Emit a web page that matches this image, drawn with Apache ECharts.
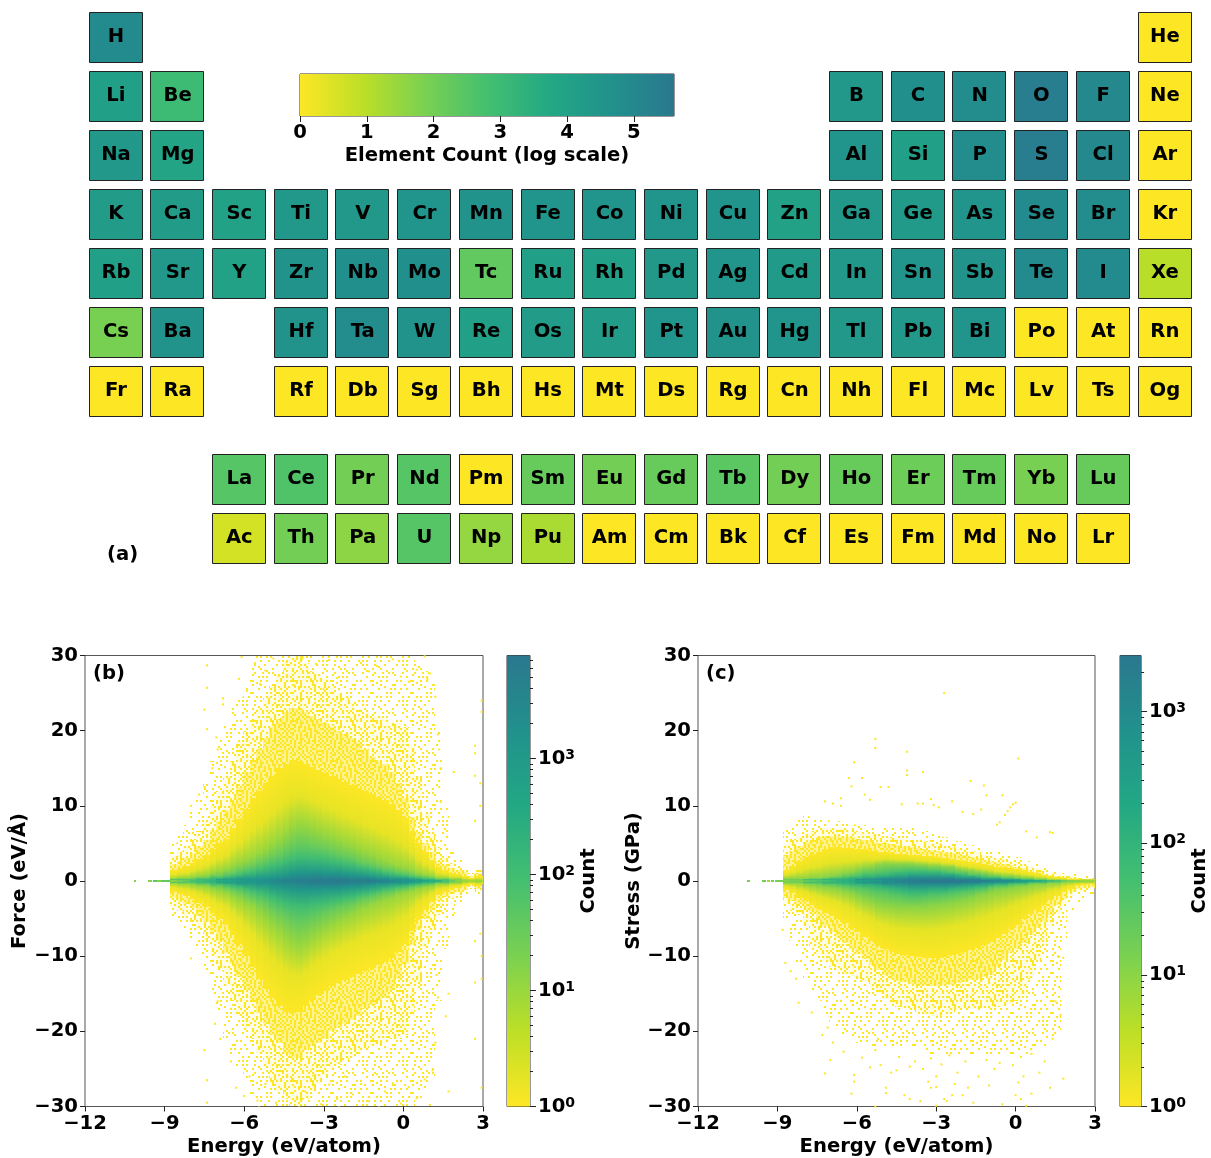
<!DOCTYPE html>
<html>
<head>
<meta charset="utf-8">
<style>html,body{margin:0;padding:0;background:#fff}#c{width:1211px;height:1158px}</style>
<script src="https://cdn.jsdelivr.net/npm/echarts@6/dist/echarts.min.js"></script>
</head>
<body>
<div id="c"></div>
<script>
// ---------- panel (a): periodic table ----------
const elementSymbols = ['H','He','Li','Be','B','C','N','O','F','Ne','Na','Mg','Al','Si','P','S','Cl','Ar',
 'K','Ca','Sc','Ti','V','Cr','Mn','Fe','Co','Ni','Cu','Zn','Ga','Ge','As','Se','Br','Kr',
 'Rb','Sr','Y','Zr','Nb','Mo','Tc','Ru','Rh','Pd','Ag','Cd','In','Sn','Sb','Te','I','Xe',
 'Cs','Ba','Hf','Ta','W','Re','Os','Ir','Pt','Au','Hg','Tl','Pb','Bi','Po','At','Rn',
 'Fr','Ra','Rf','Db','Sg','Bh','Hs','Mt','Ds','Rg','Cn','Nh','Fl','Mc','Lv','Ts','Og',
 'La','Ce','Pr','Nd','Pm','Sm','Eu','Gd','Tb','Dy','Ho','Er','Tm','Yb','Lu',
 'Ac','Th','Pa','U','Np','Pu','Am','Cm','Bk','Cf','Es','Fm','Md','No','Lr'];
const elementCols = [0,17,0,1,12,13,14,15,16,17,0,1,12,13,14,15,16,17,
 0,1,2,3,4,5,6,7,8,9,10,11,12,13,14,15,16,17,
 0,1,2,3,4,5,6,7,8,9,10,11,12,13,14,15,16,17,
 0,1,3,4,5,6,7,8,9,10,11,12,13,14,15,16,17,
 0,1,3,4,5,6,7,8,9,10,11,12,13,14,15,16,17,
 2,3,4,5,6,7,8,9,10,11,12,13,14,15,16,
 2,3,4,5,6,7,8,9,10,11,12,13,14,15,16];
const elementRows = [0,0,1,1,1,1,1,1,1,1,2,2,2,2,2,2,2,2,
 3,3,3,3,3,3,3,3,3,3,3,3,3,3,3,3,3,3,
 4,4,4,4,4,4,4,4,4,4,4,4,4,4,4,4,4,4,
 5,5,5,5,5,5,5,5,5,5,5,5,5,5,5,5,5,
 6,6,6,6,6,6,6,6,6,6,6,6,6,6,6,6,6,
 7.49,7.49,7.49,7.49,7.49,7.49,7.49,7.49,7.49,7.49,7.49,7.49,7.49,7.49,7.49,
 8.49,8.49,8.49,8.49,8.49,8.49,8.49,8.49,8.49,8.49,8.49,8.49,8.49,8.49,8.49];
const elementLogCounts = [4.9,0,4.1,3.0,4.4,4.7,4.8,5.4,5.0,0,4.4,3.9,4.5,4.1,4.8,5.4,5.0,0,
 4.2,4.2,4.0,4.4,4.4,4.5,4.6,4.5,4.5,4.5,4.5,4.0,4.4,4.3,4.5,4.9,4.8,0,
 4.1,4.4,4.0,4.6,4.7,4.7,2.3,4.1,4.1,4.4,4.5,4.3,4.4,4.5,4.6,4.9,4.9,1.0,
 1.9,4.6,4.6,4.8,4.6,4.1,4.2,4.2,4.5,4.6,4.5,4.4,4.4,4.5,0,0,0,
 0,0,0,0,0,0,0,0,0,0,0,0,0,0,0,0,0,
 2.5,2.6,2.0,2.5,0,2.2,2.0,2.2,2.4,2.0,2.2,2.1,2.2,1.9,2.2,
 0.6,2.0,1.6,2.5,1.5,1.2,0,0,0,0,0,0,0,0,0];
const elementBarMax = 5.6;
const elementBarTicks = [0,1,2,3,4,5];

// ---------- panels (b), (c): density ----------
// One value per 0.25 eV column from energyStart (groups = 1 eV): how far from y = 0
// each density contour reaches in that column; 0 = contour absent.
const energyStart = -8.8, energyStep = 0.25, centreHalfWidth = 0.13;
// contours, outermost first: 3 speckle coverages, then log10(count) levels
const contourLogs = [0,0,0,0,1,1.5,2,3];

const forceCentreLog = [1.2,1.4,1.6,1.9, 2,2.2,2.3,2.5, 2.6,2.7,2.9,3, 3.1,3.2,3.3,3.4, 3.5,3.6,3.6,3.7, 3.7,3.8,3.8,3.8, 3.8,3.8,3.8,3.7, 3.7,3.7,3.7,3.6, 3.5,3.4,3.3,3.1, 3,2.8,2.6,2.4, 2.3,1.9,1.5,1.2, 1,.9,1,.8];
const forceUpper = [
 [5,6,7.5,9.5, 11,13,16,19, 21,23,24.5,26, 29,30,30,30, 30,30,30,30, 30,30,30,30, 30,30,30,30, 30,30,30,30, 30,30,30,30, 30,29,28,27, 20,10,4.5,3, 1.7,1,1.7,.7],
 [3.4,4,4.8,5.6, 6.6,8,10,12, 14,16,18.5,20, 21.5,23,24.5,26, 27.5,29,30,30, 29,28,27.5,27, 26,25,24.5,24, 23,22.5,22,22, 21.5,21,21,20.5, 18,14,9,6.5, 4.5,3,2.4,1.9, 1.5,.8,1.4,.6],
 [2.2,2.6,3.1,3.7, 4.6,5.5,6.8,8, 9.4,10.6,12.5,14.5, 16,17.5,19,20.5, 21.5,22.5,23,23, 22.5,22,21.5,21, 20.5,20,19.5,19, 18.5,17.5,16.5,16, 15.5,14.5,13,11, 8.5,6.5,5,3.8, 2.6,2.1,1.7,1.4, 1.2,.6,1.1,.45],
 [1.5,1.7,2,2.4, 2.9,3.5,4.3,5, 5.6,7,8.2,9.6, 11,12,13,14, 15,15.6,16,16, 15.6,15.2,14.8,14.4, 14,13.6,13.2,12.8, 12.4,12,11.6,11.2, 10.8,10.2,9.4,8.4, 6.6,5,3.8,2.8, 1.9,1.4,1.1,.9, .7,.35,.6,.3],
 [.3,.35,.4,.5, .6,.75,1,1.3, 1.6,2,2.4,2.8, 3.2,3.7,4.3,4.9, 5.6,6.4,7.2,7.6, 7.4,7,6.6,6.2, 5.8,5.4,5,4.6, 4.2,3.8,3.4,3, 2.6,2.3,2,1.7, 1.4,1.1,.85,.65, .45,.35,.25,.2, .15,.15,.13,.13],
 [.2,.22,.25,.3, .35,.45,.6,.7, .9,1.1,1.4,1.7, 2,2.4,2.8,3.2, 3.6,4.1,4.6,5, 4.9,4.7,4.5,4.2, 3.9,3.6,3.3,3, 2.7,2.4,2.1,1.9, 1.6,1.4,1.2,1, .8,.6,.5,.35, .25,.2,.15,.13, 0,0,0,0],
 [.13,.14,.15,.18, .2,.27,.35,.42, .55,.65,.8,1, 1.25,1.45,1.7,2, 2.3,2.6,2.9,3.2, 3.2,3.1,3,2.9, 2.7,2.5,2.3,2.1, 1.9,1.7,1.5,1.3, 1.1,.95,.8,.65, .5,.4,.3,.22, .15,.13,0,0, 0,0,0,0],
 [0,0,0,0, 0,0,0,.13, .15,.18,.2,.25, .3,.35,.45,.55, .7,.85,1,1.2, 1.2,1.2,1.2,1.1, 1.05,1,.95,.85, .75,.65,.55,.45, .35,.3,.25,.2, .15,.13,0,0, 0,0,0,0, 0,0,0,0]];
const forceLower = [
 [5,5.5,6.5,8, 10,12,15,18, 21,23,25,27, 29,30,30,30, 30,30,30,30, 30,30,30,30, 30,30,30,30, 30,30,30,30, 30,30,30,30, 30,29,28,27, 16,9,5,3, 1.7,1,1.7,.7],
 [3.4,4,4.6,5.4, 6.5,8,10,12, 14,16,18,19.5, 21,23,25,27, 28,29,30,30, 29,28,27,26, 25,24.5,24,23.5, 23,22.5,22,22, 21.5,21,21,20.5, 18,14,9,6.5, 4.5,3,2.4,1.9, 1.5,.8,1.4,.6],
 [2.2,2.6,3,3.6, 4.6,5.5,6.8,8, 9.6,11,12.8,14.5, 16,17.5,19,20.5, 21.5,23,23.5,23.5, 22.5,22,21.5,21, 20,19.5,19,18.5, 18,17,16.5,16, 15.5,14.5,13,11, 8.5,6.5,5,3.8, 2.6,2.1,1.7,1.4, 1.2,.6,1.1,.45],
 [1.5,1.7,2,2.4, 2.9,3.5,4.3,5, 5.8,7.2,8.4,10, 11.5,13,14.4,15.6, 16.6,17.4,17.6,17.4, 16.6,15.8,15.2,14.6, 14,13.6,13.2,12.8, 12.4,12,11.6,11.2, 10.8,10.2,9.4,8.4, 6.6,5,3.8,2.8, 1.9,1.4,1.1,.9, .7,.35,.6,.3],
 [.3,.35,.4,.5, .6,.75,1,1.3, 1.6,2,2.5,3, 3.5,4.2,5,5.9, 6.7,7.6,8.3,8.6, 8.2,7.6,7,6.4, 5.9,5.4,4.9,4.5, 4,3.6,3.2,2.9, 2.5,2.2,1.9,1.6, 1.3,1,.8,.6, .45,.35,.25,.2, .15,.15,.13,.13],
 [.2,.22,.25,.3, .35,.45,.6,.7, .9,1.15,1.45,1.8, 2.2,2.6,3.1,3.7, 4.2,4.8,5.3,5.6, 5.4,5,4.7,4.3, 3.9,3.6,3.3,3, 2.7,2.4,2.1,1.9, 1.6,1.4,1.2,1, .8,.6,.5,.35, .25,.2,.15,.13, 0,0,0,0],
 [.13,.14,.15,.18, .2,.27,.35,.42, .55,.65,.85,1.05, 1.3,1.55,1.85,2.2, 2.6,3,3.3,3.5, 3.4,3.2,3,2.9, 2.7,2.5,2.3,2.1, 1.9,1.7,1.5,1.3, 1.1,.95,.8,.65, .5,.4,.3,.22, .15,.13,0,0, 0,0,0,0],
 [0,0,0,0, 0,0,0,.13, .15,.18,.2,.25, .3,.35,.45,.6, .75,.9,1.1,1.25, 1.25,1.2,1.2,1.1, 1.05,1,.95,.85, .75,.65,.55,.45, .35,.3,.25,.2, .15,.13,0,0, 0,0,0,0, 0,0,0,0]];

const stressCentreLog = [1.1,1.2,1.2,1.4, 1.5,1.6,1.7,1.9, 2,2.1,2.2,2.4, 2.5,2.6,2.7,2.9, 3,3.1,3.2,3.3, 3.3,3.4,3.4,3.4, 3.4,3.4,3.4,3.4, 3.3,3.3,3.2,3.1, 3,2.9,2.8,2.6, 2.5,2.3,2.2,2, 1.8,1.6,1.3,1.1, 1,.9,.9,.8];
const stressUpper = [
 [7.2,7.8,8.2,8.6, 8.5,8.4,8.2,8, 8,7.8,7.6,7.5, 7.4,7.2,7.1,7, 7,7,7,7, 6.8,6.6,6.3,6, 5.8,5.5,5.3,5, 4.8,4.6,4.3,4, 3.9,3.7,3.4,3.2, 3,2.7,2.3,1.8, 1.5,1.2,1,.9, .9,.8,.7,.5],
 [5,5.6,6,6.4, 6.6,6.8,7,7, 7,6.9,6.8,6.6, 6.4,6.3,6.2,6, 5.9,5.8,5.6,5.5, 5.4,5.3,5.1,5, 4.8,4.6,4.4,4.2, 4,3.8,3.5,3.3, 3.1,2.9,2.7,2.5, 2.3,2,1.7,1.3, 1.1,.95,.8,.6, .5,.45,.4,.3],
 [3.5,4,4.6,5.2, 5.5,5.8,6,6, 6,5.9,5.8,5.6, 5.4,5.2,5.1,5, 4.9,4.8,4.6,4.5, 4.4,4.3,4.1,4, 3.9,3.7,3.6,3.4, 3.2,3,2.8,2.6, 2.5,2.3,2.1,1.9, 1.7,1.5,1.2,.95, .8,.65,.55,.4, .35,.3,.28,.25],
 [1.5,2,2.6,3.2, 3.6,3.9,4.2,4.5, 4.5,4.4,4.4,4.3, 4.2,4,3.9,3.8, 3.7,3.6,3.6,3.5, 3.4,3.3,3.3,3.2, 3,2.9,2.8,2.7, 2.5,2.4,2.2,2.1, 1.9,1.8,1.7,1.6, 1.4,1.2,1,.8, .65,.5,.4,.3, .25,.22,.2,.15],
 [.2,.22,.26,.3, .34,.42,.52,.66, .8,1,1.2,1.5, 1.7,1.9,2.1,2.2, 2.2,2.2,2.2,2.2, 2.1,2.1,2,2, 1.9,1.8,1.6,1.5, 1.3,1.15,1,.9, .8,.7,.6,.5, .42,.35,.28,.22, .18,.15,.13,.13, 0,0,0,0],
 [.15,.16,.18,.2, .22,.27,.32,.38, .45,.55,.7,.85, 1,1.1,1.2,1.3, 1.4,1.5,1.55,1.6, 1.6,1.55,1.5,1.4, 1.3,1.2,1.1,1, .85,.75,.65,.55, .5,.42,.36,.3, .25,.2,.17,.14, 0,0,0,0, 0,0,0,0],
 [0,0,.13,.14, .15,.17,.2,.23, .27,.32,.37,.45, .5,.55,.62,.7, .8,.88,.95,1, 1,1,1,1, .95,.87,.8,.72, .6,.52,.45,.4, .35,.3,.25,.2, .17,.14,0,0, 0,0,0,0, 0,0,0,0],
 [0,0,0,0, 0,0,0,0, 0,0,0,.13, .14,.15,.17,.2, .23,.26,.3,.34, .38,.4,.42,.42, .38,.35,.32,.28, .24,.21,.18,.15, .14,.13,0,0, 0,0,0,0, 0,0,0,0, 0,0,0,0]];
const stressLower = [
 [5,8,11,13, 14.5,16,18,19.5, 20,20.5,21,21.5, 22,22,22,22, 22,22,22,22, 22,22.5,23,23, 23,23,23,23, 23,23,23,23, 23,23,23,23, 23,22.5,22,22, 21,20.5,8,4, 2.8,2.5,2,1.5],
 [3,4,4.5,6, 9,10,10.8,11.4, 12,12.4,12.8,13, 13.5,14.5,15,15.7, 16.3,16.7,17,17, 17.4,17.7,18,18, 17.8,17.5,17.2,17, 17,17,17,17, 16.8,16.6,16.3,16, 15.3,13,10.5,8.5, 6,4.5,3,2, 1.5,1.4,1.2,1],
 [2.2,2.6,3,3.8, 4.4,5.2,6,6.8, 7.6,8.2,9,9.7, 10.4,11.2,11.9,12.5, 13,13.3,13.5,13.7, 13.8,13.9,14,14, 13.9,13.8,13.6,13.4, 13.2,13,12.8,12.5, 11.5,10.5,9.6,9, 8.2,7.2,6.2,5.4, 4.5,3.2,2.4,1.5, 1,.9,.8,.6],
 [1.2,1.6,2.2,2.7, 3.2,3.7,4.2,4.6, 5.1,5.6,6.2,6.8, 7.4,8,8.6,9, 9.4,9.7,9.9,10, 10.1,10.2,10.3,10.3, 10.1,9.9,9.7,9.5, 9.2,8.9,8.5,8.1, 7.6,7,6.4,5.8, 5,4.4,3.9,3.2, 2.5,2,1.5,1.1, .7,.55,.4,.3],
 [.2,.25,.3,.4, .5,.6,.75,.9, 1,1.3,1.6,2, 2.4,2.7,3,3.2, 3.3,3.4,3.5,3.5, 3.5,3.4,3.3,3.2, 3.05,2.9,2.7,2.5, 2.2,1.9,1.7,1.5, 1.2,1,.9,.75, .6,.5,.42,.35, .28,.22,.18,.15, .13,.13,0,0],
 [.15,.16,.18,.2, .25,.3,.37,.42, .5,.62,.78,.95, 1.1,1.3,1.5,1.65, 1.8,1.95,2.1,2.2, 2.2,2.15,2.05,2, 1.9,1.75,1.6,1.45, 1.3,1.15,1,.85, .7,.6,.5,.42, .35,.3,.25,.2, .17,.14,0,0, 0,0,0,0],
 [0,0,.13,.14, .15,.18,.22,.25, .28,.33,.38,.45, .5,.58,.68,.8, .9,1,1.15,1.3, 1.3,1.3,1.25,1.2, 1.15,1.05,.95,.9, .8,.7,.6,.55, .4,.35,.3,.25, .2,.17,.15,.13, 0,0,0,0, 0,0,0,0],
 [0,0,0,0, 0,0,0,0, 0,0,0,.13, .14,.15,.17,.2, .25,.29,.33,.38, .42,.44,.45,.45, .42,.38,.34,.3, .26,.22,.19,.16, .14,.13,0,0, 0,0,0,0, 0,0,0,0, 0,0,0,0]];

// thin tails on y = 0 left of the main cloud: [from, to, log10(count)]
const forceTail = [[-10.15,-10.08,1.2],[-9.62,-9.46,1.2],[-9.44,-9.3,1.6],[-9.27,-9.15,1.2],[-9.12,-8.8,1.6]];
const stressTail = [[-10.15,-10.05,1.2],[-9.6,-9.42,1.2],[-9.4,-9.28,.8],[-9.25,-9.12,1.2],[-9.1,-8.8,1.2]];

// isolated single-count points: [energy, value]
const forceDots = [[-5.6,29],[-5.2,28],[-5.4,26.2],[-5.9,25.3],[-4.9,29.6],[-4.7,27.3],[-4.4,29.1],[-4.1,26],[-3.8,29.8],[-3.6,27.7],[-3.3,28.9],[-3,25.5],[-2.8,29.4],[-2.5,27],[-2.2,28.2],[-1.9,26.1],[-1.6,29],[-1.3,27.9],[-1,28.6],[-0.7,25.8],[-0.4,29.5],[-0.1,27.2],[0.2,26.5],[0.5,28.1],[0.8,29.9],[0.9,26.9],[1,27.6],[1.2,24.5],[1.3,19.5],[1.35,17.5],[1.4,15],[1.35,12.5],[1.4,10.5],
 [-7.4,28.7],[-7.4,25.7],[-7.5,22.8],[-7.4,20.2],[-6.8,24.3],[-6.8,23.5],[-6.2,26.9],[-6.1,29.8],[-7.05,19.1],[-7,17.5],[-7.2,15],[-8,10],[-7.7,11.5],[-7.5,12.5],
 [2.95,24],[2.95,22.5],[2.9,13],[2.9,10],[2.9,-7],[2.95,-10],[2.7,18],[2.7,17],[2.7,14],[2.7,8],[2.7,-8],[2.7,-13.5],[2.7,-21],[2.95,-27.5],[2.95,-13],[1.7,-28],[1.7,-15],[1.6,-18],[1.9,14.5],
 [-7.4,-26.5],[-7.4,-29.5],[-7.5,-22.5],[-8,-10.3],[-7,-16],[-7.1,-19],[-6.9,-21],[-6.5,-24],[-6.3,-27.5],[-6,-28.6],[-5.8,-26],[-5.5,-29.2],[-5.2,-27],[-5,-25.3],[-4.8,-29.5],[-4.5,-27.9],[-4.2,-26.3],[-4,-29],[-3.7,-28],[-3.4,-25.9],[-3.1,-29.7],[-2.8,-27.1],[-2.5,-29],[-2.2,-26],[-1.9,-28.4],[-1.6,-27],[-1.3,-29.3],[-1,-25.7],[-0.7,-28],[-0.4,-26.9],[-0.1,-29.6],[0.2,-27.4],[0.5,-28.9],[0.8,-26.4],[1,-29.8],[1.1,-25.2],[1.2,-21.5],[1.3,-15.5],[1.25,-12.5]];
const stressDots = [[-2.7,25],[-5.3,18.9],[-5.3,17.7],[-4.1,17.2],[0.1,16.3],[-6.1,15.8],[-4.1,14.7],[-4.1,14.1],[-3.5,14.5],[-6.3,13.7],[-5.8,13.7],[-1.7,13.3],[-1.2,12.7],[-6.2,12.6],[-5.1,12.5],[-4.8,12.5],[-1.1,11.4],[-0.5,11.4],[0,10.4],[-0.1,10.2],[-0.2,9.8],[-0.3,9.3],[-0.4,8.8],[-6.6,11],[-5.7,11.5],[-3.2,10.9],[-2.4,10.6],[-3.5,10.3],[-3.7,10.3],[-7.2,10.6],[-6.9,10.3],[-6.6,10],[-5.5,10.8],[-4.3,10.2],[-1.3,9.5],[-2.9,9.8],[-3.1,10.1],[-2,9.2],[-1.6,8.9],[-0.6,7.8],[-0.7,7.5],[1.3,6.5],[1.4,6.4],[0.8,5.8],[0.4,6.6],
 [-2.6,-29.3],[-2.4,-28.5],[-3,-29.9],[-5.3,-30],[-4.9,-27.5],[-4.9,-28.2],[-4.2,-28.5],[-4,-29],[-3.6,-29.3],[-3.2,-27.5],[-3,-27.4],[-2.7,-29],[-2,-28.5],[-1.8,-27.5],[-1.6,-29.5],[-0.5,-29.7],[0,-28.5],[0.2,-29],[0.4,-29.9],[0.6,-28.3],[-6.2,-28.3],[-6.1,-26.7],[-7.2,-25.6],[1.8,-26.3],[1.3,-27.5],[-6.1,-25.8],[-7,-23.8],[-6.9,-21.5],[-7.3,-20.5],[-7.1,-19.5],[-7.7,-17.5],[-8.2,-16.2],[-8.3,-13],[-8.5,-12],[-8.7,-10.9],[-8.8,-6.5],[-5.2,-21],[-5.3,-22.5],[-5.1,-24.5],[-4.7,-25.5],[-3.8,-24],[-3.5,-25],[-3,-26],[-2.2,-25.5],[-1.4,-26],[-0.8,-25],[-0.1,-24.5],[0.3,-26],[0.6,-23],[1.1,-24],[1.4,-21],[1.7,-17.8],[1.6,-10],[1.8,-10.2],[1.5,-16],
 [-4.4,-23.4],[-4,-24.7],[-3.2,-23.6],[-2.8,-24.4],[-2.5,-23.2],[-1.9,-24],[-1.1,-23.8],[-0.6,-24.2],[0.2,-23.4],[0.9,-25.5],[-5.8,-23.5],[-5.5,-24.8],[-6.5,-22.7],[-3.3,-26.7],[-2.3,-27],[-1,-27.2],[0.1,-26.8],[-4.5,-25.2]];

// ---------- colour map ----------
const colormapStops = ['#fde725','#bddf26','#7ad151','#44bf70','#22a884','#21918c','#2a788e'];
const forceBarMax = 3.887, stressBarMax = 3.425;
const barMajorTicks = [0,1,2,3];
const forceBarMinor = [0.301,0.477,0.602,0.699,0.778,0.845,0.903,0.954,1.301,1.477,1.602,1.699,1.778,1.845,1.903,1.954,2.301,2.477,2.602,2.699,2.778,2.845,2.903,2.954,3.301,3.477,3.602,3.699,3.778,3.845];
const stressBarMinor = [0.301,0.477,0.602,0.699,0.778,0.845,0.903,0.954,1.301,1.477,1.602,1.699,1.778,1.845,1.903,1.954,2.301,2.477,2.602,2.699,2.778,2.845,2.903,2.954,3.301];

// hand-drawn speckle texture for the single-count fringe (style only, not data)
const speckleTile = [
 "1..3.2233.1..2.33.2.",".32..3..1.23.3..2.3.","3.2.3.13..2...3.21.3","..3.2..2.33.1.2..3.2",
 "23.1.33..2..3.32.1..","..2.3..2.3.23..3.23.",".3.3.21...3..2.1..32","2..2..3.3.2.33.3.2..",
 ".13.23..2.1..2.2.3.3","3..3..2.3.33..3..2..",".2.2.3.1..2.3.1.33.2","3.3..2.3.23..32..2..",
 ".1.23..2..3.2...3.13","2.3..3.3.1.3.2.3..2.","..2.3.2..32..3..23..","33.1..3.2..3.1.3..32",
 ".2.3.3.2.3.2..2.2.3.","3..2..13..3.3..3.1.2",".3.2.3...2.1.23..3..","2..3..2.33..3..2.2.3"];

// ---------- helpers ----------
const FONT = '"DejaVu Sans"', FS = 19.6;
function hex2rgb(h){return [1,3,5].map(i=>parseInt(h.substr(i,2),16));}
function cmap(t){
  t=Math.max(0,Math.min(1,t));
  const p=t*(colormapStops.length-1), i=Math.min(Math.floor(p),colormapStops.length-2), f=p-i;
  const a=hex2rgb(colormapStops[i]), b=hex2rgb(colormapStops[i+1]);
  return 'rgb('+a.map((v,k)=>Math.round(v+(b[k]-v)*f)).join(',')+')';
}
function makeSpeckle(level){
  const cell=2, cv=document.createElement('canvas');
  cv.width=cv.height=speckleTile.length*cell;
  const g=cv.getContext('2d');
  g.fillStyle='rgba(253,231,37,'+[0,0.12,0.5][level]+')';
  g.fillRect(0,0,cv.width,cv.height);
  g.fillStyle='#fde725';
  speckleTile.forEach((row,r)=>{
    for(let c=0;c<row.length;c++){
      const ch=row[c]; let on=false;
      if(ch==='1') on=true;
      else if(ch==='2') on= level>0 || r%2===0;
      else if(ch==='3') on= level>1 || (level===1 && r%3===0);
      if(on) g.fillRect(c*cell,r*cell,cell,cell);
    }
  });
  return {image:cv,repeat:'repeat'};
}
const speckles=[makeSpeckle(0),makeSpeckle(1),makeSpeckle(2)];

// each cell: [e0,e1,|y| outer,|y| inner,sign,log outer,log inner,kind] kind 0..2 speckle, 3 smooth
function densityCells(centreLog, upper, lower, tail){
  const cells=[];
  function addSide(table,sign){
    const nCols=table[0].length;
    for(let c=0;c<nCols;c++){
      const e0=energyStart+c*energyStep, e1=e0+energyStep;
      for(let k=0;k<table.length;k++){
        const h=table[k][c]; if(!h) continue;
        let inner=centreHalfWidth, nextLog=null;
        if(k+1<table.length && table[k+1][c]>centreHalfWidth*0.99){inner=table[k+1][c]; nextLog=contourLogs[k+1];}
        if(nextLog===null){ nextLog=Math.max(contourLogs[k],centreLog[c]); if(k<3) nextLog=0; }
        if(h<=inner) continue;
        cells.push([e0,e1,h,inner,sign,contourLogs[k],nextLog,Math.min(k,3)]);
      }
    }
  }
  addSide(upper,1); addSide(lower,-1);
  centreLog.forEach((v,c)=>{
    const e0=energyStart+c*energyStep;
    cells.push([e0,e0+energyStep,centreHalfWidth,0,1,v,v,4]);
  });
  tail.forEach(t=>cells.push([t[0],t[1],centreHalfWidth,0,1,t[2],t[2],4]));
  return cells;
}
function densityRender(max){
  return function(params,api){
    const e0=api.value(0), e1=api.value(1), hOut=api.value(2), hIn=api.value(3), s=api.value(4);
    const kind=api.value(7);
    const yTopVal= kind===4? hOut : (s>0? hOut : -hIn);
    const yBotVal= kind===4? -hOut : (s>0? hIn : -hOut);
    const a=api.coord([e0,yTopVal]), b=api.coord([e1,yBotVal]);
    const x=Math.round(a[0]), y=Math.round(a[1]);
    const w=Math.max(1,Math.round(b[0])-x), h=Math.round(b[1])-y;
    if(h<=0) return null;
    let fill;
    if(kind<3) fill=speckles[kind];
    else if(kind===4) fill=cmap(api.value(5)/max);
    else {
      // shading of one band; the yellow fringe (log 0 to log 1) stays yellow for longer
      const lo=api.value(5), hi=api.value(6);
      const st=(lo===0 && hi===1)? [[0,0],[0.55,0.22],[1,1]] : [[0,lo],[1,hi]];
      const stops=st.map(p=>s>0?{offset:p[0],color:cmap((p[0]===0?lo:p[1])/max)}:{offset:1-p[0],color:cmap((p[0]===0?lo:p[1])/max)});
      if(s<0) stops.reverse();
      fill=new echarts.graphic.LinearGradient(0,0,0,1,stops);
    }
    return {type:'rect',shape:{x,y,width:w,height:h},style:{fill}};
  };
}
function tileRender(params,api){
  const c=api.coord([api.value(0),api.value(1)]);
  const w=53,h=50;
  return {type:'group',children:[
    {type:'rect',shape:{x:Math.round(c[0]-w/2)+0.5,y:Math.round(c[1]-h/2)+0.5,width:w,height:h},
     style:{fill:cmap(api.value(2)/elementBarMax),stroke:'#222',lineWidth:1}},
    {type:'text',style:{text:elementSymbols[params.dataIndex],x:c[0]+0.8,y:c[1]-0.5,align:'center',verticalAlign:'middle',
      font:'bold '+FS+'px '+FONT,fill:'#000'}}
  ]};
}
function barRender(horizontal){
  return function(params,api){
    const a=api.coord([api.value(0),api.value(3)]), b=api.coord([api.value(1),api.value(2)]);
    const stops=colormapStops.map((c,i)=>({offset:i/(colormapStops.length-1),color:c}));
    const fill=horizontal?new echarts.graphic.LinearGradient(0,0,1,0,stops):new echarts.graphic.LinearGradient(0,1,0,0,stops);
    return {type:'rect',shape:{x:a[0],y:a[1],width:b[0]-a[0],height:b[1]-a[1]},style:{fill:fill}};
  };
}
const labelStyle={color:'#000',fontFamily:FONT,fontWeight:'bold',fontSize:FS};
const minus=v=>String(v).replace('-','\u2212');
const SPINE='#555';

function panelAxes(gridIndex,yName,nameGapY){
  return {
    x:{gridIndex,type:'value',min:-12,max:3,interval:3,splitLine:{show:false},axisLine:{show:false,onZero:false},
       axisTick:{length:5,lineStyle:{color:'#222'}},
       axisLabel:Object.assign({},labelStyle,{margin:7,formatter:minus}),
       name:'Energy (eV/atom)',nameLocation:'middle',nameGap:30,nameTextStyle:labelStyle},
    y:{gridIndex,type:'value',min:-30,max:30,interval:10,splitLine:{show:false},axisLine:{show:false,onZero:false},
       axisTick:{length:5,lineStyle:{color:'#222'}},
       axisLabel:Object.assign({},labelStyle,{margin:7,formatter:minus}),
       name:yName,nameLocation:'middle',nameGap:nameGapY,nameRotate:90,nameTextStyle:labelStyle}
  };
}
function barAxes(gridIndex,max,minor){
  return {
    x:{gridIndex,type:'value',min:0,max:1,show:false},
    y:[{gridIndex,type:'value',position:'right',min:0,max:max,splitLine:{show:false},axisLine:{show:false,onZero:false},
        axisTick:{length:6,lineStyle:{color:'#222'},customValues:barMajorTicks},
        axisLabel:{margin:8,color:'#000',customValues:barMajorTicks,
          formatter:v=>'{b|10}{s|'+v+'}',
          rich:{b:{fontFamily:FONT,fontWeight:'bold',fontSize:FS,color:'#000'},
                s:{fontFamily:FONT,fontWeight:'bold',fontSize:14,color:'#000',verticalAlign:'bottom',padding:[0,0,7,0]}}},
        name:'Count',nameLocation:'middle',nameGap:48,nameRotate:90,nameTextStyle:labelStyle},
       {gridIndex,type:'value',position:'right',min:0,max:max,splitLine:{show:false},axisLine:{show:false,onZero:false},
        axisTick:{length:3,lineStyle:{color:'#222'},customValues:minor},
        axisLabel:{show:false}}]
  };
}
const pb=panelAxes(2,'Force (eV/\u00c5)',55), pc=panelAxes(4,'Stress (GPa)',54);
const cb=barAxes(3,forceBarMax,forceBarMinor), cc=barAxes(5,stressBarMax,stressBarMinor);

const option={
  animation:false,
  backgroundColor:'#fff',
  grid:[
    {left:84.3,top:7.5,width:1110.6,height:560.5},
    {left:300,top:74,width:374,height:42,show:true,borderColor:'#333',borderWidth:1},
    {left:85,top:655.5,width:398,height:451,show:true,borderColor:SPINE,borderWidth:1},
    {left:507,top:655.5,width:23,height:451,show:true,borderColor:'#333',borderWidth:1},
    {left:698,top:655.5,width:397,height:451,show:true,borderColor:SPINE,borderWidth:1},
    {left:1120,top:655.5,width:23,height:451,show:true,borderColor:'#333',borderWidth:1}
  ],
  xAxis:[
    {gridIndex:0,type:'value',min:-0.5,max:17.5,show:false},
    {gridIndex:1,type:'value',min:0,max:elementBarMax,splitLine:{show:false},axisLine:{show:false,onZero:false},
     axisTick:{length:6,lineStyle:{color:'#222'},customValues:elementBarTicks},
     axisLabel:Object.assign({},labelStyle,{margin:7,customValues:elementBarTicks}),
     name:'Element Count (log scale)',nameLocation:'middle',nameGap:30,nameTextStyle:labelStyle},
    pb.x,cb.x,pc.x,cc.x
  ],
  yAxis:[
    {gridIndex:0,type:'value',inverse:true,min:-0.5,max:9,show:false},
    {gridIndex:1,type:'value',min:0,max:1,show:false},
    pb.y,cb.y[0],pc.y,cc.y[0],cb.y[1],cc.y[1]
  ],
  graphic:[
    {type:'text',left:107,top:545,style:{text:'(a)',font:'bold '+FS+'px '+FONT,fill:'#000'}},
    {type:'text',left:93,top:664,style:{text:'(b)',font:'bold '+FS+'px '+FONT,fill:'#000'}},
    {type:'text',left:706,top:664,style:{text:'(c)',font:'bold '+FS+'px '+FONT,fill:'#000'}}
  ],
  series:[
    {type:'custom',name:'Elements',xAxisIndex:0,yAxisIndex:0,silent:true,renderItem:tileRender,
     encode:{x:0,y:1},data:elementSymbols.map((s,i)=>[elementCols[i],elementRows[i],elementLogCounts[i]])},
    {type:'custom',xAxisIndex:1,yAxisIndex:1,silent:true,renderItem:barRender(true),encode:{x:[0,1],y:[2,3]},data:[[0,elementBarMax,0,1]]},
    {type:'custom',name:'Force density',xAxisIndex:2,yAxisIndex:2,silent:true,clip:true,renderItem:densityRender(forceBarMax),
     data:densityCells(forceCentreLog,forceUpper,forceLower,forceTail)},
    {type:'scatter',name:'Force points',xAxisIndex:2,yAxisIndex:2,silent:true,symbol:'rect',symbolSize:2,
     itemStyle:{color:'#fde725',opacity:1},data:forceDots},
    {type:'custom',xAxisIndex:3,yAxisIndex:3,silent:true,renderItem:barRender(false),encode:{x:[0,1],y:[2,3]},data:[[0,1,0,forceBarMax]]},
    {type:'custom',name:'Stress density',xAxisIndex:4,yAxisIndex:4,silent:true,clip:true,renderItem:densityRender(stressBarMax),
     data:densityCells(stressCentreLog,stressUpper,stressLower,stressTail)},
    {type:'scatter',name:'Stress points',xAxisIndex:4,yAxisIndex:4,silent:true,symbol:'rect',symbolSize:2,
     itemStyle:{color:'#fde725',opacity:1},data:stressDots},
    {type:'custom',xAxisIndex:5,yAxisIndex:5,silent:true,renderItem:barRender(false),encode:{x:[0,1],y:[2,3]},data:[[0,1,0,stressBarMax]]}
  ]
};
const chart=echarts.init(document.getElementById('c'),null,{renderer:'canvas',width:1211,height:1158});
chart.setOption(option);
</script>
</body>
</html>
